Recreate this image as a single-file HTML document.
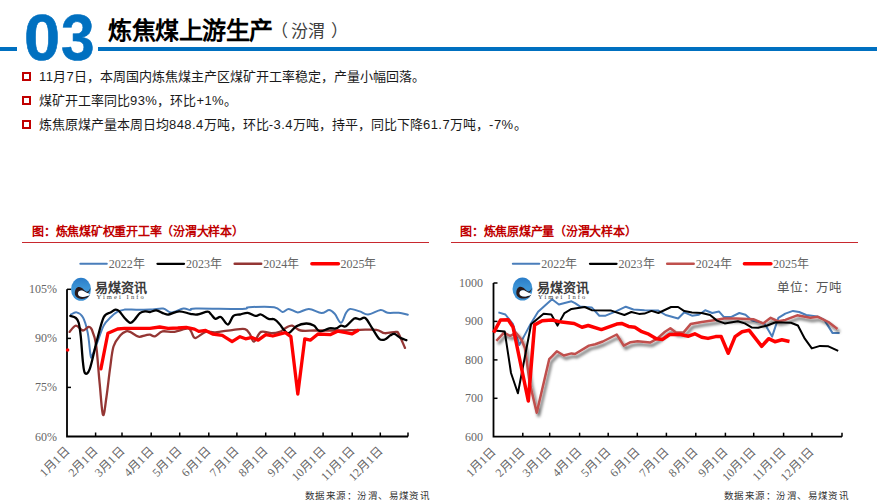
<!DOCTYPE html>
<html lang="zh-CN"><head><meta charset="utf-8">
<style>
*{margin:0;padding:0;box-sizing:border-box}
html,body{width:877px;height:503px;overflow:hidden;background:#fff}
body{position:relative;font-family:"Liberation Sans",sans-serif;color:#000}
.abs{position:absolute;white-space:nowrap}
.bul{position:absolute;left:22px;width:9.3px;height:9.3px;border:2px solid #C00000}
.d{letter-spacing:0.45px}
.bt{position:absolute;left:39px;font-size:13px;line-height:16px;color:#1a1a1a;white-space:nowrap}
.ct{position:absolute;font-size:12px;letter-spacing:-0.25px;font-weight:bold;color:#C00000;line-height:14px;white-space:nowrap}
svg{position:absolute;left:0;top:0}
.yl{font-family:"Liberation Serif",serif;font-size:12px;fill:#666}
.xl{font-family:"Liberation Serif",serif;font-size:12px;fill:#666}
.lg{font-family:"Liberation Serif",serif;font-size:12px;fill:#666}
.lgo{font-size:13px;font-weight:bold;fill:#3a3a3a}
.lgs{font-family:"Liberation Serif",serif;font-size:6.5px;fill:#3a3a3a;letter-spacing:2.1px}
.unit{font-family:"Liberation Serif",serif;font-size:12.5px;fill:#555}
.src{font-family:"Liberation Serif",serif;font-size:9.5px;fill:#333;letter-spacing:0.45px}
</style></head><body>
<div class="abs" style="left:0;top:47px;width:17px;height:4px;background:#0070C0"></div>
<div class="abs" style="left:98px;top:47px;width:779px;height:4px;background:#0070C0"></div>
<div class="abs" style="left:24px;top:1px;font-size:65px;font-weight:bold;color:#0070C0;line-height:74px;letter-spacing:1px;-webkit-text-stroke:0.6px #0070C0">0<span style="display:inline-block;transform:scaleX(0.93);transform-origin:0 0">3</span></div>
<div class="abs" style="left:108px;top:16px;font-size:24px;font-weight:bold;line-height:30px;letter-spacing:-0.5px">炼焦煤上游生产</div>
<div class="abs" style="left:271px;top:21px;font-size:17px;color:#404040;line-height:22px">（</div><div class="abs" style="left:291px;top:21px;font-size:17px;color:#404040;line-height:22px">汾渭</div><div class="abs" style="left:331px;top:21px;font-size:17px;color:#404040;line-height:22px">）</div>
<div class="bul" style="top:71.5px"></div>
<div class="bul" style="top:95.5px"></div>
<div class="bul" style="top:119.5px"></div>
<div class="bt" style="top:69px"><span class="d">11</span>月<span class="d">7</span>日，本周国内炼焦煤主产区煤矿开工率稳定，产量小幅回落。</div>
<div class="bt" style="top:93px">煤矿开工率同比<span class="d">93%</span>，环比<span class="d">+1%</span>。</div>
<div class="bt" style="top:117px">炼焦原煤产量本周日均<span class="d">848.4</span>万吨，环比<span class="d">-3.4</span>万吨，持平，同比下降<span class="d">61.7</span>万吨，<span class="d">-7%</span>。</div>
<div class="ct" style="left:32px;top:225px">图：炼焦煤矿权重开工率（汾渭大样本）</div>
<div class="ct" style="left:460px;top:225px">图：炼焦原煤产量（汾渭大样本）</div>
<div class="abs" style="left:22px;top:241.8px;width:407px;height:1.6px;background:#C8282E"></div>
<div class="abs" style="left:451px;top:241.8px;width:407px;height:1.6px;background:#C8282E"></div>
<svg width="877" height="503" viewBox="0 0 877 503">
<defs>
<filter id="sh" x="-10%" y="-10%" width="120%" height="130%"><feGaussianBlur in="SourceAlpha" stdDeviation="1.8"/><feOffset dx="2.2" dy="2.5" result="b"/><feFlood flood-color="#000" flood-opacity="0.6"/><feComposite in2="b" operator="in"/><feMerge><feMergeNode/><feMergeNode in="SourceGraphic"/></feMerge></filter>
<linearGradient id="lg" x1="0" y1="0" x2="0" y2="1"><stop offset="0" stop-color="#2a7cc8"/><stop offset="0.45" stop-color="#3d95d6"/><stop offset="1" stop-color="#3a8fd3"/></linearGradient>
</defs>
<path d="M67,289.3 V436.5 H408" fill="none" stroke="#000" stroke-width="1.8"/>
<path d="M67,289.3 H71" stroke="#000" stroke-width="1.5"/>
<path d="M67,338.4 H71" stroke="#000" stroke-width="1.5"/>
<path d="M67,387.4 H71" stroke="#000" stroke-width="1.5"/>
<text x="57" y="293.3" class="yl" text-anchor="end">105%</text>
<text x="57" y="342.4" class="yl" text-anchor="end">90%</text>
<text x="57" y="391.4" class="yl" text-anchor="end">75%</text>
<text x="57" y="440.5" class="yl" text-anchor="end">60%</text>
<path d="M95.6,436.5 V432.5" stroke="#000" stroke-width="1.5"/>
<path d="M122,436.5 V432.5" stroke="#000" stroke-width="1.5"/>
<path d="M151.2,436.5 V432.5" stroke="#000" stroke-width="1.5"/>
<path d="M179.7,436.5 V432.5" stroke="#000" stroke-width="1.5"/>
<path d="M208.8,436.5 V432.5" stroke="#000" stroke-width="1.5"/>
<path d="M236.9,436.5 V432.5" stroke="#000" stroke-width="1.5"/>
<path d="M265.7,436.5 V432.5" stroke="#000" stroke-width="1.5"/>
<path d="M294.8,436.5 V432.5" stroke="#000" stroke-width="1.5"/>
<path d="M323.1,436.5 V432.5" stroke="#000" stroke-width="1.5"/>
<path d="M352.2,436.5 V432.5" stroke="#000" stroke-width="1.5"/>
<path d="M380.3,436.5 V432.5" stroke="#000" stroke-width="1.5"/>
<path d="M408,436.5 V432.5" stroke="#000" stroke-width="1.5"/>
<text transform="translate(70.0,452.0) rotate(-45)" class="xl" text-anchor="end">1月1日</text>
<text transform="translate(98.6,452.0) rotate(-45)" class="xl" text-anchor="end">2月1日</text>
<text transform="translate(125.0,452.0) rotate(-45)" class="xl" text-anchor="end">3月1日</text>
<text transform="translate(154.2,452.0) rotate(-45)" class="xl" text-anchor="end">4月1日</text>
<text transform="translate(182.7,452.0) rotate(-45)" class="xl" text-anchor="end">5月1日</text>
<text transform="translate(211.8,452.0) rotate(-45)" class="xl" text-anchor="end">6月1日</text>
<text transform="translate(239.9,452.0) rotate(-45)" class="xl" text-anchor="end">7月1日</text>
<text transform="translate(268.7,452.0) rotate(-45)" class="xl" text-anchor="end">8月1日</text>
<text transform="translate(297.8,452.0) rotate(-45)" class="xl" text-anchor="end">9月1日</text>
<text transform="translate(326.1,452.0) rotate(-45)" class="xl" text-anchor="end">10月1日</text>
<text transform="translate(355.2,452.0) rotate(-45)" class="xl" text-anchor="end">11月1日</text>
<text transform="translate(383.3,452.0) rotate(-45)" class="xl" text-anchor="end">12月1日</text>
<path d="M493.5,283 V436.7 H842" fill="none" stroke="#000" stroke-width="1.8"/>
<path d="M493.5,283.0 H497.5" stroke="#000" stroke-width="1.5"/>
<path d="M493.5,321.4 H497.5" stroke="#000" stroke-width="1.5"/>
<path d="M493.5,359.9 H497.5" stroke="#000" stroke-width="1.5"/>
<path d="M493.5,398.3 H497.5" stroke="#000" stroke-width="1.5"/>
<text x="483" y="287.0" class="yl" text-anchor="end">1000</text>
<text x="483" y="325.4" class="yl" text-anchor="end">900</text>
<text x="483" y="363.9" class="yl" text-anchor="end">800</text>
<text x="483" y="402.3" class="yl" text-anchor="end">700</text>
<text x="483" y="440.7" class="yl" text-anchor="end">600</text>
<path d="M522.8,436.7 V432.7" stroke="#000" stroke-width="1.5"/>
<path d="M549.7,436.7 V432.7" stroke="#000" stroke-width="1.5"/>
<path d="M579.6,436.7 V432.7" stroke="#000" stroke-width="1.5"/>
<path d="M608.2,436.7 V432.7" stroke="#000" stroke-width="1.5"/>
<path d="M637.3,436.7 V432.7" stroke="#000" stroke-width="1.5"/>
<path d="M666.4,436.7 V432.7" stroke="#000" stroke-width="1.5"/>
<path d="M695.8,436.7 V432.7" stroke="#000" stroke-width="1.5"/>
<path d="M725.4,436.7 V432.7" stroke="#000" stroke-width="1.5"/>
<path d="M753.7,436.7 V432.7" stroke="#000" stroke-width="1.5"/>
<path d="M783.6,436.7 V432.7" stroke="#000" stroke-width="1.5"/>
<path d="M811.9,436.7 V432.7" stroke="#000" stroke-width="1.5"/>
<path d="M842,436.7 V432.7" stroke="#000" stroke-width="1.5"/>
<text transform="translate(496.5,452.2) rotate(-45)" class="xl" text-anchor="end">1月1日</text>
<text transform="translate(525.8,452.2) rotate(-45)" class="xl" text-anchor="end">2月1日</text>
<text transform="translate(552.7,452.2) rotate(-45)" class="xl" text-anchor="end">3月1日</text>
<text transform="translate(582.6,452.2) rotate(-45)" class="xl" text-anchor="end">4月1日</text>
<text transform="translate(611.2,452.2) rotate(-45)" class="xl" text-anchor="end">5月1日</text>
<text transform="translate(640.3,452.2) rotate(-45)" class="xl" text-anchor="end">6月1日</text>
<text transform="translate(669.4,452.2) rotate(-45)" class="xl" text-anchor="end">7月1日</text>
<text transform="translate(698.8,452.2) rotate(-45)" class="xl" text-anchor="end">8月1日</text>
<text transform="translate(728.4,452.2) rotate(-45)" class="xl" text-anchor="end">9月1日</text>
<text transform="translate(756.7,452.2) rotate(-45)" class="xl" text-anchor="end">10月1日</text>
<text transform="translate(786.6,452.2) rotate(-45)" class="xl" text-anchor="end">11月1日</text>
<text transform="translate(814.9,452.2) rotate(-45)" class="xl" text-anchor="end">12月1日</text>
<path d="M71.0,314.5 C71.9,314.1 74.6,311.9 76.6,312.4 C78.6,312.9 81.1,313.9 82.9,317.3 C84.8,320.7 86.4,326.4 87.7,332.6 C89.0,338.9 89.8,350.9 90.5,354.8 C91.2,358.7 90.9,358.1 91.9,356.2 C93.0,354.3 94.8,348.8 96.8,343.7 C98.8,338.6 101.4,330.0 103.7,325.6 C106.0,321.2 108.4,319.6 110.7,317.3 C113.0,315.0 115.3,313.0 117.6,311.7 C119.9,310.4 122.3,310.0 124.6,309.6 C126.9,309.2 127.3,309.6 131.5,309.6 C135.7,309.6 144.7,309.8 150.0,309.6 C155.3,309.4 159.7,308.0 163.2,308.5 C166.7,309.0 167.5,312.4 170.9,312.4 C174.3,312.4 180.2,308.9 183.4,308.5 C186.6,308.1 188.2,310.0 190.3,310.0 C192.4,310.0 187.2,308.7 195.9,308.5 C204.6,308.3 233.3,309.1 242.2,308.9 C251.1,308.7 243.8,307.5 249.1,307.2 C254.4,306.9 268.6,306.4 274.2,307.2 C279.8,308.0 280.1,311.7 282.5,312.0 C284.9,312.3 286.2,308.8 288.8,308.9 C291.4,309.0 294.5,312.4 297.8,312.4 C301.1,312.4 305.0,308.8 308.9,308.9 C312.8,309.0 318.0,312.9 321.4,313.1 C324.8,313.3 327.0,309.9 329.2,310.0 C331.4,310.1 332.7,311.7 334.7,313.8 C336.7,315.9 339.1,322.9 341.0,322.8 C342.9,322.7 344.4,315.4 345.9,313.1 C347.4,310.8 347.7,309.2 350.0,308.9 C352.3,308.6 356.8,310.5 359.8,311.4 C362.8,312.3 364.6,314.7 368.1,314.5 C371.6,314.3 377.4,310.3 380.6,310.0 C383.9,309.7 384.6,312.3 387.6,312.8 C390.6,313.3 395.3,312.5 398.7,312.8 C402.1,313.1 406.3,314.4 407.8,314.7" fill="none" stroke="#4A7EBB" stroke-width="2" stroke-linejoin="round" stroke-linecap="round"/>
<path d="M69.6,331.9 C70.6,330.8 73.7,325.8 75.9,325.6 C78.1,325.4 80.8,330.3 82.9,330.5 C85.0,330.7 86.9,327.1 88.4,327.0 C89.9,326.9 90.6,326.8 91.9,329.8 C93.2,332.8 94.8,336.2 96.1,345.0 C97.4,353.8 98.4,371.2 99.6,382.8 C100.8,394.4 101.8,412.5 103.0,414.8 C104.2,417.1 105.3,404.4 106.5,396.7 C107.7,389.0 108.8,377.3 110.0,368.9 C111.2,360.5 111.8,352.1 113.5,346.5 C115.2,340.9 118.3,337.8 120.4,335.3 C122.5,332.8 124.4,332.0 126.0,331.4 C127.6,330.8 128.0,331.0 130.1,331.9 C132.2,332.8 135.9,336.1 138.5,336.7 C141.1,337.3 143.5,335.6 145.4,335.3 C147.3,335.0 148.4,334.4 150.0,334.6 C151.6,334.8 152.8,336.8 154.9,336.3 C157.0,335.8 159.3,332.1 162.5,331.4 C165.7,330.7 170.1,332.4 174.3,331.9 C178.5,331.4 184.8,328.5 187.6,328.4 C190.4,328.3 189.7,329.6 191.0,331.2 C192.3,332.8 192.8,338.0 195.2,338.1 C197.6,338.2 202.2,332.9 205.6,331.9 C209.0,330.9 210.8,332.6 215.4,332.3 C220.0,332.0 228.5,330.3 233.4,329.8 C238.3,329.3 242.3,328.4 245.0,329.1 C247.7,329.8 248.3,331.8 249.8,333.9 C251.3,336.0 252.1,341.9 254.0,341.6 C255.9,341.3 258.1,333.3 261.0,331.9 C263.9,330.5 268.3,333.2 271.4,333.2 C274.5,333.2 277.3,332.8 279.7,331.9 C282.1,331.0 283.9,328.8 286.0,327.7 C288.1,326.6 289.8,325.1 292.2,325.6 C294.6,326.1 296.7,329.7 300.6,330.5 C304.6,331.3 309.8,330.5 315.9,330.5 C322.0,330.5 330.2,330.6 337.5,330.5 C344.8,330.4 353.3,329.9 359.8,329.8 C366.3,329.7 372.3,329.2 376.5,329.8 C380.7,330.4 381.6,332.9 384.8,333.2 C388.0,333.5 393.6,331.8 395.9,331.9 C398.2,332.0 397.2,331.2 398.7,333.9 C400.2,336.6 403.9,345.6 405.0,347.9" fill="none" stroke="#943634" stroke-width="2.3" stroke-linejoin="round" stroke-linecap="round"/>
<path d="M70.3,315.9 C71.2,316.2 74.5,316.9 75.9,318.0 C77.3,319.1 77.9,319.7 78.7,322.8 C79.5,325.9 80.1,330.2 80.8,336.7 C81.5,343.2 82.2,355.7 82.9,361.8 C83.6,367.9 83.8,371.9 85.0,373.1 C86.2,374.3 87.8,374.3 89.8,368.9 C91.8,363.5 94.5,349.5 96.8,340.9 C99.1,332.3 101.4,322.1 103.7,317.3 C106.0,312.6 108.7,313.7 110.7,312.4 C112.7,311.1 114.1,309.8 115.5,309.6 C116.9,309.4 117.5,309.6 119.0,311.0 C120.5,312.4 122.8,316.0 124.6,318.0 C126.4,320.0 128.5,322.5 130.1,322.8 C131.7,323.1 132.7,321.6 134.3,320.0 C135.9,318.4 138.1,314.5 139.9,313.1 C141.8,311.7 143.7,311.6 145.4,311.4 C147.1,311.2 148.2,312.2 150.0,312.0 C151.8,311.8 154.0,310.1 156.3,310.3 C158.6,310.6 161.8,312.8 163.9,313.5 C166.0,314.2 166.2,314.9 168.8,314.5 C171.4,314.1 175.6,311.4 179.2,311.3 C182.8,311.2 187.3,313.3 190.3,313.8 C193.3,314.3 194.4,314.9 197.3,314.5 C200.2,314.1 205.4,311.7 207.7,311.7 C210.0,311.7 209.9,313.3 211.2,314.5 C212.5,315.7 213.8,318.5 215.4,318.9 C217.0,319.3 218.8,316.1 220.9,317.0 C223.0,317.9 225.8,324.7 227.9,324.5 C230.0,324.3 231.4,317.6 233.4,315.9 C235.4,314.2 237.6,315.0 240.0,314.5 C242.4,314.0 245.1,312.6 247.7,312.8 C250.3,313.0 253.2,315.6 255.4,315.9 C257.6,316.2 258.8,314.0 261.0,314.5 C263.2,315.0 266.4,318.1 268.6,318.9 C270.8,319.7 272.4,318.4 274.2,319.3 C276.0,320.2 278.1,322.4 279.7,324.2 C281.3,325.9 282.4,328.3 283.9,329.8 C285.4,331.3 286.7,333.8 288.8,333.2 C290.9,332.6 293.5,327.9 296.4,326.3 C299.3,324.7 303.3,323.6 306.2,323.5 C309.1,323.4 311.5,324.3 313.8,325.6 C316.1,326.9 317.4,330.9 320.0,331.4 C322.6,331.9 326.5,328.9 329.2,328.4 C331.9,327.9 334.1,328.9 336.1,328.4 C338.1,327.9 339.4,326.0 341.0,325.6 C342.6,325.2 343.7,327.5 345.9,326.3 C348.1,325.1 351.9,319.8 354.2,318.6 C356.5,317.4 357.9,319.4 359.8,319.3 C361.7,319.2 363.2,316.5 365.3,318.0 C367.4,319.5 370.0,324.9 372.3,328.4 C374.6,331.9 377.1,336.9 379.2,338.8 C381.3,340.7 382.9,340.1 384.8,339.5 C386.7,338.9 388.8,336.2 390.4,335.3 C392.0,334.4 392.8,333.4 394.5,333.9 C396.2,334.4 398.8,337.1 400.8,338.1 C402.8,339.2 405.5,339.9 406.4,340.2" fill="none" stroke="#000" stroke-width="2.3" stroke-linejoin="round" stroke-linecap="round"/>
<circle cx="67.6" cy="350" r="1.8" fill="#FF0000"/>
<polyline points="100.9,368.9 107.9,333.2 117.6,329.0 124.6,328.4 150.0,328.4 159.7,327.0 168.1,328.4 177.8,328.0 186.2,327.3 194.5,329.1 198.7,331.4 205.6,330.5 212.6,334.0 222.3,335.3 232.1,341.6 240.0,336.7 245.6,338.8 251.9,337.4 258.2,340.2 265.8,334.6 272.8,336.0 285.3,332.6 290.9,336.7 297.8,394.0 304.8,338.8 310.3,340.2 318.0,334.0 330.6,334.6 337.5,331.2 345.9,332.6 352.1,333.9 357.7,330.5" fill="none" stroke="#FF0000" stroke-width="3.3" stroke-linejoin="round" stroke-linecap="round"/>
<polyline points="498.4,312.4 505.4,314.5 513.0,324.2 519.3,345.1 529.7,325.6 538.1,311.7 552.0,299.2 558.9,304.5 571.5,301.3 575.0,303.2 579.9,306.4 591.7,307.4 599.3,315.7 605.6,315.7 615.3,311.6 625.8,306.7 633.4,309.5 644.5,310.2 658.4,310.6 665.6,315.0 678.1,318.5 684.3,312.3 692.0,315.7 698.9,314.8 705.2,310.2 712.2,313.0 719.1,311.6 724.0,317.1 730.9,317.1 739.3,313.0 745.5,314.8 752.0,320.6 764.5,323.4 772.1,336.6 778.4,317.8 785.3,313.6 793.0,310.9 799.2,312.0 806.2,315.0 817.3,316.4 824.3,319.9 832.6,333.1 839.6,333.1" fill="none" stroke="#4A7EBB" stroke-width="2" stroke-linejoin="round"/>
<polyline points="496.3,340.9 504.0,332.6 510.3,336.0 515.8,332.6 521.4,339.5 524.9,347.9 529.7,382.8 536.7,412.7 549.2,359.2 552.0,356.4 556.8,351.3 563.8,355.5 571.5,353.4 575.0,354.0 588.9,345.6 595.2,344.2 602.8,341.5 616.7,334.5 623.7,345.6 630.6,342.2 637.6,341.2 650.1,342.6 657.1,338.7 665.0,331.7 670.4,328.2 676.0,332.4 683.6,332.4 690.6,324.1 701.7,322.0 715.6,319.9 724.0,318.5 736.5,318.5 753.3,319.2 763.1,323.4 770.7,317.8 778.4,321.3 785.3,319.9 797.2,315.3 810.4,317.8 818.0,316.8 828.4,322.0 837.5,328.9" fill="none" stroke="#C0504D" stroke-width="2.5" stroke-linejoin="round" filter="url(#sh)"/>
<polyline points="494.3,330.5 504.7,331.4 511.0,373.0 517.9,393.2 531.1,324.2 543.6,313.8 551.3,314.5 557.5,325.6 564.5,313.1 571.5,308.9 584.7,307.0 591.7,310.2 611.2,310.6 624.4,315.0 631.3,312.0 639.0,313.9 644.5,313.6 651.5,310.9 658.4,313.0 671.1,307.0 678.1,307.0 684.3,311.1 692.0,312.5 701.7,313.0 710.1,315.0 717.0,320.6 724.7,323.4 737.9,321.3 744.8,323.4 752.0,327.6 758.2,327.8 767.3,325.5 775.6,322.3 790.9,322.7 797.9,325.5 804.8,338.7 811.8,348.4 820.1,345.9 828.4,346.3 838.2,350.9" fill="none" stroke="#000" stroke-width="2" stroke-linejoin="round"/>
<polyline points="493.6,332.6 500.5,320.0 508.2,319.8 513.0,327.0 528.3,401.0 534.6,324.9 542.2,320.7 552.0,320.0 561.7,322.1 574.2,323.5 582.0,327.3 588.2,325.5 601.4,329.6 616.7,324.1 621.6,323.4 628.5,326.4 634.8,327.3 641.8,331.7 648.7,334.2 656.4,338.7 662.6,339.4 669.7,334.5 679.5,334.2 688.5,336.2 694.8,333.8 701.7,337.3 708.0,338.4 715.6,336.6 721.2,336.6 728.2,353.3 735.1,336.6 742.1,331.7 749.2,330.3 761.7,346.3 768.6,338.7 774.9,341.7 781.9,339.8 789.5,341.5" fill="none" stroke="#FF0000" stroke-width="3.5" stroke-linejoin="round"/>
<path d="M80.3,263.8 H106.8" stroke="#4A7EBB" stroke-width="2" stroke-linecap="round"/>
<text x="108.8" y="268" class="lg">2022年</text>
<path d="M157.5,263.8 H184.0" stroke="#000" stroke-width="2.3" stroke-linecap="round"/>
<text x="186.0" y="268" class="lg">2023年</text>
<path d="M234.7,263.8 H261.2" stroke="#943634" stroke-width="2.5" stroke-linecap="round"/>
<text x="263.2" y="268" class="lg">2024年</text>
<path d="M311.90000000000003,263.8 H338.40000000000003" stroke="#FF0000" stroke-width="3.5" stroke-linecap="round"/>
<text x="340.4" y="268" class="lg">2025年</text>
<path d="M512.8,263.8 H539.3" stroke="#4A7EBB" stroke-width="2" stroke-linecap="round"/>
<text x="541.3" y="268" class="lg">2022年</text>
<path d="M590.0,263.8 H616.5" stroke="#000" stroke-width="2.3" stroke-linecap="round"/>
<text x="618.5" y="268" class="lg">2023年</text>
<path d="M667.1999999999999,263.8 H693.6999999999999" stroke="#C0504D" stroke-width="2.5" stroke-linecap="round"/>
<text x="695.7" y="268" class="lg">2024年</text>
<path d="M744.4,263.8 H770.9" stroke="#FF0000" stroke-width="3.5" stroke-linecap="round"/>
<text x="772.9" y="268" class="lg">2025年</text>
<g transform="translate(81,289.3)"><ellipse cx="0" cy="0" rx="10" ry="11.5" fill="url(#lg)"/><path d="M9.3,-1.5 C8.5,1.5 7,2.8 5.4,2.4 C3.5,2 1.5,-2.2 -2,-2.2 C-4.5,-2.2 -6.2,0.5 -6.2,4 C-6.2,7.5 -3,9.6 1,9.6 C4.5,9.6 7.5,8 8.9,5.8 C6.5,7 4,7.6 1.5,7.6 C-1.5,7.6 -3,6 -3,4.2 C-3,2.2 -1.5,1.2 0.5,1.2 C2.5,1.2 4,2.8 6,3.8 C7.5,4.3 9,2 9.3,-1.5 Z" fill="#2a1a1a"/><path d="M8.9,5.8 C6.5,7 4,7.6 1.5,7.6 C-1.5,7.6 -3,6 -3,4.2 C-3,2.2 -1.5,1.2 0.5,1.2 C2.5,1.2 4,2.8 6,3.8 C7.5,4.3 8.5,4.5 8.9,5.8 Z" fill="#fff"/></g>
<text x="95" y="291.8" class="lgo">易煤资讯</text>
<text x="96.5" y="299.1" class="lgs">Yimei Info</text>
<g transform="translate(522.5,289)"><ellipse cx="0" cy="0" rx="10" ry="11.5" fill="url(#lg)"/><path d="M9.3,-1.5 C8.5,1.5 7,2.8 5.4,2.4 C3.5,2 1.5,-2.2 -2,-2.2 C-4.5,-2.2 -6.2,0.5 -6.2,4 C-6.2,7.5 -3,9.6 1,9.6 C4.5,9.6 7.5,8 8.9,5.8 C6.5,7 4,7.6 1.5,7.6 C-1.5,7.6 -3,6 -3,4.2 C-3,2.2 -1.5,1.2 0.5,1.2 C2.5,1.2 4,2.8 6,3.8 C7.5,4.3 9,2 9.3,-1.5 Z" fill="#2a1a1a"/><path d="M8.9,5.8 C6.5,7 4,7.6 1.5,7.6 C-1.5,7.6 -3,6 -3,4.2 C-3,2.2 -1.5,1.2 0.5,1.2 C2.5,1.2 4,2.8 6,3.8 C7.5,4.3 8.5,4.5 8.9,5.8 Z" fill="#fff"/></g>
<text x="536.5" y="291.5" class="lgo">易煤资讯</text>
<text x="538.0" y="298.8" class="lgs">Yimei Info</text>
<text x="777" y="292" class="unit">单位：万吨</text>
<text x="305" y="499" class="src">数据来源：汾渭、易煤资讯</text>
<text x="724" y="499" class="src">数据来源：汾渭、易煤资讯</text>
</svg>
</body></html>
